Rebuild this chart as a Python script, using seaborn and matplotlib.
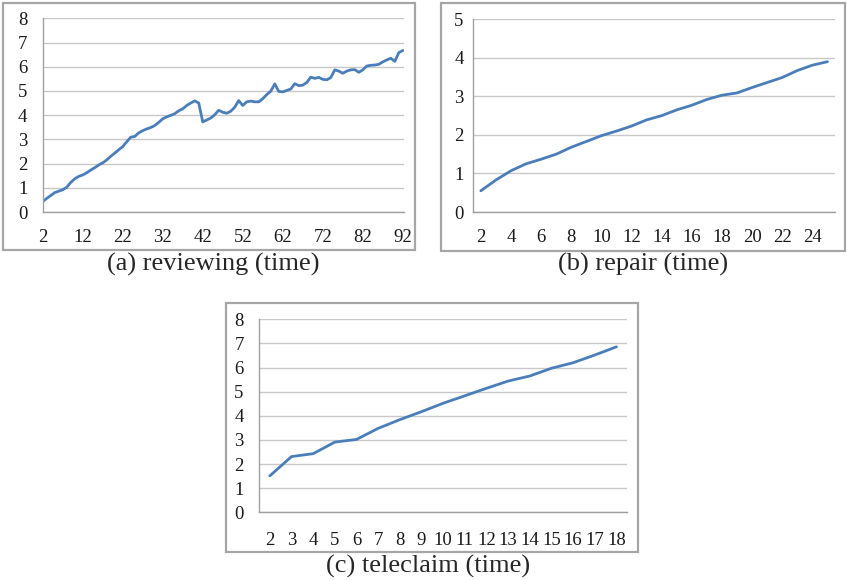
import matplotlib
matplotlib.use("Agg")
import matplotlib.pyplot as plt
from matplotlib.patches import Rectangle
import seaborn as sns

# data
review_x = list(range(2, 93))
review_y = [0.43, 0.56, 0.68, 0.80, 0.86, 0.92, 1.02, 1.22, 1.37, 1.47,
            1.53, 1.62, 1.73, 1.83, 1.94, 2.03, 2.15, 2.30, 2.43, 2.57,
            2.70, 2.90, 3.09, 3.12, 3.27, 3.36, 3.43, 3.49, 3.57, 3.70,
            3.85, 3.93, 3.99, 4.06, 4.18, 4.26, 4.40, 4.50, 4.59, 4.50,
            3.72, 3.80, 3.88, 4.02, 4.20, 4.12, 4.08, 4.16, 4.33, 4.60,
            4.40, 4.55, 4.58, 4.55, 4.55, 4.68, 4.85, 4.99, 5.29, 4.98,
            4.96, 5.02, 5.08, 5.30, 5.22, 5.24, 5.35, 5.57, 5.52, 5.56,
            5.48, 5.46, 5.55, 5.87, 5.82, 5.73, 5.82, 5.87, 5.88, 5.77,
            5.87, 6.03, 6.06, 6.07, 6.10, 6.20, 6.28, 6.35, 6.22, 6.58,
            6.67]

repair_x = list(range(2, 26))
repair_y = [0.55, 0.83, 1.07, 1.25, 1.37, 1.50, 1.68, 1.83, 1.98, 2.10,
            2.23, 2.39, 2.50, 2.65, 2.77, 2.92, 3.03, 3.09, 3.23, 3.36,
            3.49, 3.67, 3.81, 3.90]

tele_x = list(range(2, 19))
tele_y = [1.51, 2.31, 2.43, 2.91, 3.02, 3.48, 3.84, 4.17, 4.52, 4.83,
          5.14, 5.44, 5.65, 5.97, 6.20, 6.52, 6.86]

captions = ["(a) reviewing (time)", "(b) repair (time)", "(c) teleclaim (time)"]

sns.set_theme(style="white")
plt.rcParams["font.family"] = ["Liberation Serif", "DejaVu Serif"]

W, H = 847, 580
fig = plt.figure(figsize=(W / 100, H / 100), dpi=100)

LINE = "#4a7ebb"
GRID = "#c8c8c8"
AXC = "#a0a0a0"
BOX = "#a6a6a6"
TICK_FS = 13.5
CAP_FS = 19


def rect(x0, y0, x1, y1):
    # pixel box (top-left origin) -> figure fraction
    return [x0 / W, 1 - y1 / H, (x1 - x0) / W, (y1 - y0) / H]


def style(ax, ymax):
    ax.set_ylim(0, ymax)
    ax.set_yticks(range(0, ymax + 1))
    ax.yaxis.grid(True, color=GRID, lw=1.0)
    ax.xaxis.grid(False)
    for s in ["top", "right"]:
        ax.spines[s].set_visible(False)
    for s in ["left", "bottom"]:
        ax.spines[s].set_color(AXC)
        ax.spines[s].set_linewidth(1.0)
    ax.tick_params(axis="y", length=4, color=AXC, width=1.0, pad=7,
                   labelsize=TICK_FS, labelcolor="#1a1a1a")
    ax.set_xlabel("")
    ax.set_ylabel("")
    ax.patch.set_alpha(0)


def box(x0, y0, x1, y1):
    fig.add_artist(Rectangle((x0 / W, 1 - y1 / H), (x1 - x0) / W, (y1 - y0) / H,
                             transform=fig.transFigure, fill=False,
                             edgecolor=BOX, lw=1.6))


# (a) reviewing
box(3, 3, 415, 250)
ax1 = fig.add_axes(rect(42.7, 18.3, 404, 212))
sns.lineplot(x=review_x, y=review_y, ax=ax1, color=LINE, lw=2.0)
style(ax1, 8)
ax1.set_xlim(2, 92.3)
ax1.set_xticks(range(2, 93, 10))
ax1.tick_params(axis="x", length=4, color=AXC, width=1.0, pad=8,
                labelsize=TICK_FS, labelcolor="#1a1a1a")
fig.text(213 / W, 1 - 264 / H, captions[0], ha="center", va="center", fontsize=CAP_FS)

# (b) repair
box(441, 3, 845, 251)
ax2 = fig.add_axes(rect(473.3, 19.3, 835, 212))
sns.lineplot(x=repair_x, y=repair_y, ax=ax2, color=LINE, lw=2.0)
style(ax2, 5)
ax2.set_xlim(1.5, 25.5)
ax2.set_xticks(range(2, 25, 2))
ax2.set_xticks([b + 0.5 for b in range(1, 26)], minor=True)
ax2.tick_params(axis="x", which="major", length=0, pad=12,
                labelsize=TICK_FS, labelcolor="#1a1a1a")
ax2.tick_params(axis="x", which="minor", length=4, color=AXC, width=1.0)
ax2.tick_params(axis="y", pad=3)
fig.text(643 / W, 1 - 264 / H, captions[1], ha="center", va="center", fontsize=CAP_FS)

# (c) teleclaim
box(226, 303, 638, 552)
ax3 = fig.add_axes(rect(259, 319.3, 627.3, 512.3))
sns.lineplot(x=tele_x, y=tele_y, ax=ax3, color=LINE, lw=2.0)
style(ax3, 8)
ax3.set_xlim(1.5, 18.5)
ax3.set_xticks(range(2, 19))
ax3.set_xticks([b + 0.5 for b in range(1, 19)], minor=True)
ax3.tick_params(axis="x", which="major", length=0, pad=14,
                labelsize=TICK_FS, labelcolor="#1a1a1a")
ax3.tick_params(axis="x", which="minor", length=5, color=AXC, width=1.0)
fig.text(428 / W, 1 - 566 / H, captions[2], ha="center", va="center", fontsize=CAP_FS)

fig.savefig("out.png", dpi=100)
